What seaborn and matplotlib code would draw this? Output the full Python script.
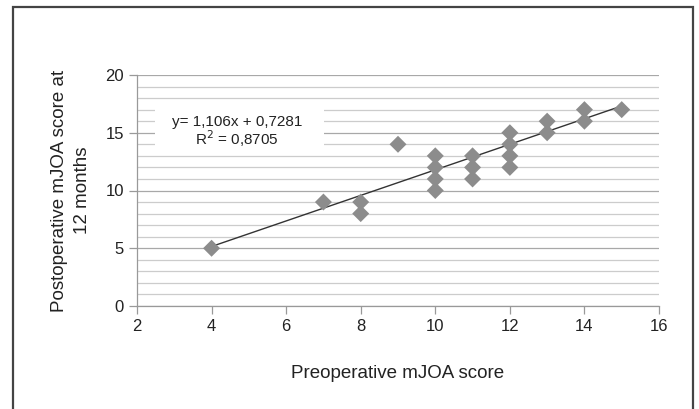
import matplotlib
matplotlib.use("Agg")
import matplotlib.pyplot as plt
import numpy as np
import pandas as pd
import seaborn as sns
from matplotlib.patches import Rectangle

# data
pre_score = [4, 7, 8, 8, 9, 10, 10, 10, 10, 11, 11, 11, 12, 12, 12, 12, 13, 13, 14, 14, 15]
post_score = [5, 9, 9, 8, 14, 13, 12, 11, 10, 13, 12, 11, 15, 14, 13, 12, 16, 15, 17, 16, 17]
slope = 1.106
intercept = 0.7281
r_squared = 0.8705
x_ticks = [2, 4, 6, 8, 10, 12, 14, 16]
y_ticks = [0, 5, 10, 15, 20]

df = pd.DataFrame({"pre": pre_score, "post": post_score})
fit_x = np.array([min(pre_score), max(pre_score)])
fit = pd.DataFrame({"x": fit_x, "y": slope * fit_x + intercept})

sns.set_theme(style="white")
plt.rcParams["font.family"] = ["Liberation Sans", "DejaVu Sans"]

fig = plt.figure(figsize=(6.99, 4.09), dpi=100)
ax = fig.add_axes([137 / 699, 1 - 306 / 409, (659 - 137) / 699, (306 - 75) / 409])

# horizontal grid: minor every 1, major every 5
for v in range(0, 21):
    ax.axhline(v, color="#a8a8a8" if v % 5 == 0 else "#cccccc", lw=0.9, zorder=0)

sns.lineplot(data=fit, x="x", y="y", color="#333333", lw=1.0, ax=ax, zorder=2)
sns.scatterplot(data=df, x="pre", y="post", marker="D", s=75, color="#8c8c8c",
                edgecolor="none", ax=ax, zorder=3)

ax.set_xlim(2, 16)
ax.set_ylim(0, 20)
ax.set_xticks(x_ticks)
ax.set_yticks(y_ticks)
ax.tick_params(axis="both", labelsize=12, colors="#999999", labelcolor="#222222",
               length=6, width=0.9, direction="out", pad=3.5)
ax.tick_params(axis="both", bottom=True, left=True)
for side in ("top", "right"):
    ax.spines[side].set_visible(False)
for side in ("left", "bottom"):
    ax.spines[side].set_color("#999999")
    ax.spines[side].set_linewidth(0.9)
ax.set_facecolor("white")

ax.set_xlabel("Preoperative mJOA score", fontsize=13.5, color="#222222", labelpad=22)
ax.set_ylabel("Postoperative mJOA score at\n12 months", fontsize=13.5, color="#222222",
              labelpad=10, linespacing=1.45)

# white label box for the regression equation
ax.add_patch(Rectangle((2.485, 13.07), 4.52, 4.16, facecolor="white", edgecolor="none",
                       zorder=1))
ax.text(4.69, 15.06, f"y= {slope:.3f}x + {intercept:.4f}\nR$^2$ = {r_squared:.4f}".replace(".", ","),
        ha="center", va="center", fontsize=11, color="#222222", linespacing=1.0,
        zorder=4)

fig.patches.append(Rectangle((13 / 699, -0.1), (693 - 13) / 699, 1.1 - 7.5 / 409,
                             transform=fig.transFigure, fill=False,
                             edgecolor="#444444", lw=1.6, clip_on=False))

fig.savefig("out.png", dpi=100)
